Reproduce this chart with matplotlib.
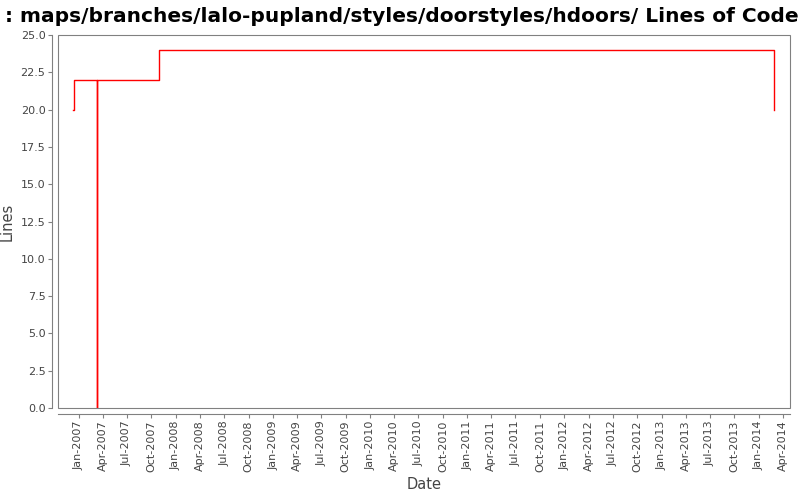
import numpy as np
import matplotlib
matplotlib.use("Agg")
import matplotlib.pyplot as plt
import matplotlib.dates as mdates
from matplotlib.patches import Rectangle
from datetime import datetime

# data
dates = ["2006-12-12", "2006-12-15", "2007-03-09", "2007-03-10", "2007-10-28", "2014-02-26"]
lines = [20, 22, 0, 22, 24, 20]
title = ": maps/branches/lalo-pupland/styles/doorstyles/hdoors/ Lines of Code"

x = [datetime.strptime(d, "%Y-%m-%d") for d in dates]

fig = plt.figure(figsize=(8, 5), dpi=100)
ax = fig.add_axes([58 / 800, 92 / 500, 732 / 800, 373 / 500])

ax.plot(x, lines, drawstyle="steps-post", color="#ff0000", linewidth=1.0)

ax.set_xlim(datetime(2006, 10, 15), datetime(2014, 4, 28))
ax.set_ylim(0, 25)
ax.set_yticks(np.arange(0, 25.1, 2.5))
ax.yaxis.set_major_formatter(plt.FormatStrFormatter("%.1f"))
ax.xaxis.set_major_locator(mdates.MonthLocator(bymonth=[1, 4, 7, 10]))
ax.xaxis.set_major_formatter(mdates.DateFormatter("%b-%Y"))

ax.tick_params(colors="#808080", labelcolor="#444444", labelsize=8, length=3, width=0.8, pad=2)
ax.tick_params(axis="x", labelrotation=90)

# offset axes, plus the plot frame
for s in ["top", "right"]:
    ax.spines[s].set_visible(False)
for s in ["left", "bottom"]:
    ax.spines[s].set_position(("outward", 4))
    ax.spines[s].set_color("#808080")
    ax.spines[s].set_linewidth(0.8)
ax.add_patch(Rectangle((0, 0), 1, 1, transform=ax.transAxes, fill=False,
                       edgecolor="#808080", linewidth=0.8, clip_on=False))

ax.set_xlabel("Date", fontsize=10.5, color="#444444")
ax.set_ylabel("Lines", fontsize=10.5, color="#444444")
ax.yaxis.set_label_coords(-0.059, 0.5)
ax.xaxis.set_label_coords(0.5, -0.185)

fig.text(5 / 800, 1 - 16 / 500, title, fontsize=14.5, fontweight="bold", va="center", ha="left")

fig.savefig("out.png", dpi=100)
